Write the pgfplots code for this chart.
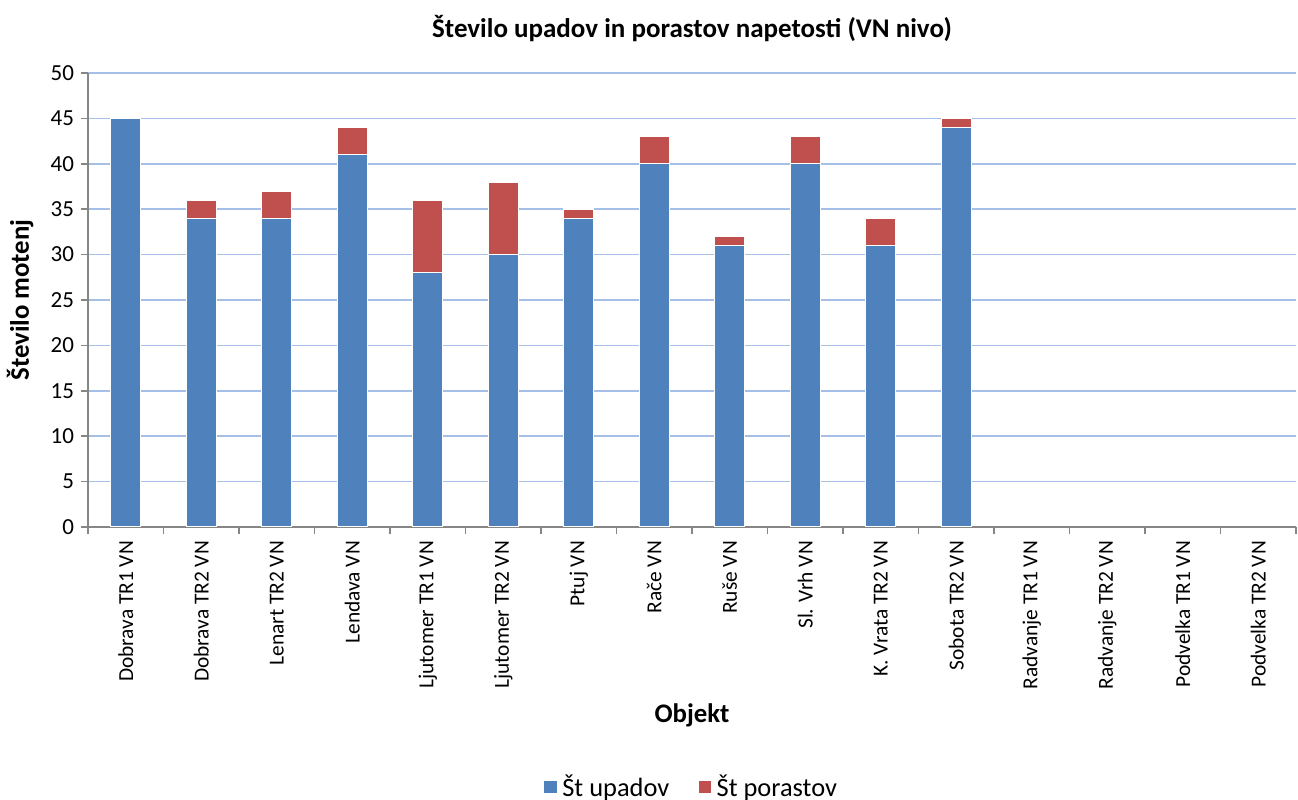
\documentclass[border=0pt]{standalone}
\usepackage{pgfplots}
\pgfplotsset{compat=1.18}
\usepackage{fontspec}
\setmainfont{Carlito}
\usetikzlibrary{calc}
\definecolor{sblue}{HTML}{4F81BD}
\definecolor{sred}{HTML}{C0504D}
\definecolor{gridc}{HTML}{A6BFE6}
\definecolor{axc}{HTML}{868686}
\begin{document}
\begin{tikzpicture}
\begin{axis}[
    scale only axis, width=604pt, height=227pt,
    ybar stacked, bar width=15pt,
    xmin=-0.5, xmax=15.5, ymin=0, ymax=50,
    axis lines=left, axis line style={-, axc, line width=0.8pt},
    ytick={0,5,...,50},
    ymajorgrids, grid style={gridc, line width=0.8pt},
    xtick={0,...,15},
    xticklabels={Dobrava TR1 VN, Dobrava TR2 VN, Lenart TR2 VN, Lendava VN, Ljutomer TR1 VN, Ljutomer TR2 VN, Ptuj VN, Rače VN, Ruše VN, Sl. Vrh VN, K. Vrata TR2 VN, Sobota TR2 VN, Radvanje TR1 VN, Radvanje TR2 VN, Podvelka TR1 VN, Podvelka TR2 VN},
    x tick label style={rotate=90, anchor=east, font=\fontsize{10.7}{12}\selectfont},
    y tick label style={font=\fontsize{11.5}{12}\selectfont},
    /pgf/number format/assume math mode=true,
    major x tick style={draw=none},
    minor xtick={-0.5,0.5,...,15.5},
    minor x tick style={axc, line width=0.8pt},
    minor tick length=3.5pt,
    major tick length=3.5pt,
    tick align=outside,
    ytick style={axc, line width=0.8pt},
    title={\bfseries Število upadov in porastov napetosti (VN nivo)},
    title style={font=\fontsize{13.5}{15}\selectfont, at={(0.5,1)}, anchor=center, yshift=16pt},
    xlabel={\bfseries Objekt},
    xlabel style={font=\fontsize{13.4}{15}\selectfont, at={(0.5,0)}, anchor=center, yshift=-94pt},
    ylabel={\bfseries Število motenj},
    ylabel style={font=\fontsize{13.4}{15}\selectfont, at={(0,0.5)}, anchor=center, yshift=34pt},
    legend columns=2,
    legend style={draw=none, at={(0.5,0)}, anchor=center, yshift=-130pt,
        font=\fontsize{13.2}{15}\selectfont, /tikz/every even column/.append style={column sep=12pt}},
    legend image code/.code={\fill[#1] (0pt,-3.5pt) rectangle (7pt,3.5pt);},
]
\addplot[fill=sblue, draw=white, line width=0.7pt] coordinates {
    (0,45) (1,34) (2,34) (3,41) (4,28) (5,30) (6,34) (7,40) (8,31) (9,40) (10,31) (11,44)
};
\addplot[fill=sred, draw=white, line width=0.7pt] coordinates {
    (0,0) (1,2) (2,3) (3,3) (4,8) (5,8) (6,1) (7,3) (8,1) (9,3) (10,3) (11,1)
};
\legend{Št upadov, Št porastov}
\end{axis}
\pgfresetboundingbox
\path ($(current axis.south west)+(-44pt,-136.5pt)$) rectangle ($(current axis.north east)+(1pt,36.5pt)$);
\end{tikzpicture}
\end{document}
